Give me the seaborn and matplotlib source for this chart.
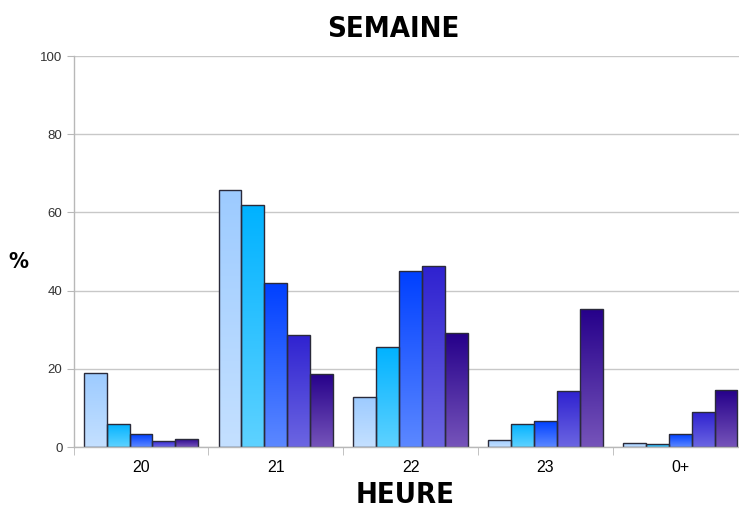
import numpy as np
import pandas as pd
import matplotlib
matplotlib.use("Agg")
import matplotlib.pyplot as plt
import seaborn as sns
from matplotlib.colors import LinearSegmentedColormap

hours = ["20", "21", "22", "23", "0+"]
series = ["S1", "S2", "S3", "S4", "S5"]
s1 = [18.9, 65.7, 12.7, 1.8, 0.9]
s2 = [5.9, 61.8, 25.7, 5.9, 0.7]
s3 = [3.2, 41.9, 45.0, 6.6, 3.2]
s4 = [1.6, 28.7, 46.3, 14.3, 8.9]
s5 = [2.1, 18.7, 29.1, 35.4, 14.5]

top_colors = ["#9dcbff", "#00b2ff", "#0040ff", "#2f22d0", "#25008a"]
bottom_colors = ["#c4e0ff", "#5ed2ff", "#5c88ff", "#6c66e2", "#7654ba"]

rows = []
for name, vals in zip(series, [s1, s2, s3, s4, s5]):
    for h, v in zip(hours, vals):
        rows.append({"heure": h, "serie": name, "val": v})
df = pd.DataFrame(rows)

sns.set_style("white")
fig = plt.figure(figsize=(7.39, 5.09), dpi=100)
ax = fig.add_axes([0.0996, 0.1218, 0.912, 0.768])

sns.barplot(data=df, x="heure", y="val", hue="serie", order=hours,
            hue_order=series, palette=top_colors, width=0.85,
            edgecolor="#2a2a3a", linewidth=1.0, legend=False, ax=ax,
            errorbar=None, saturation=1)

# gradient fills clipped to each bar
for i, cont in enumerate(ax.containers):
    cmap = LinearSegmentedColormap.from_list("g%d" % i, [bottom_colors[i], top_colors[i]])
    grad = np.linspace(0, 1, 256).reshape(-1, 1)
    for p in cont.patches:
        x0, y0 = p.get_x(), p.get_y()
        w, h = p.get_width(), p.get_height()
        im = ax.imshow(grad, extent=[x0, x0 + w, y0, y0 + h], origin="lower",
                       cmap=cmap, aspect="auto", zorder=p.get_zorder() + 0.1)
        im.set_clip_path(p)
        p.set_facecolor("none")
        p.set_zorder(p.get_zorder() + 0.2)

ax.set_xlim(-0.5, 4.5)
ax.set_ylim(0, 100)
ax.set_yticks([0, 20, 40, 60, 80, 100])
ax.yaxis.grid(True, color="#c8c8c8", linewidth=1.0)
ax.set_axisbelow(True)
for s in ["top", "right"]:
    ax.spines[s].set_visible(False)
for s in ["left", "bottom"]:
    ax.spines[s].set_color("#b8b8b8")
    ax.spines[s].set_linewidth(1.0)

ax.tick_params(axis="y", which="both", left=True, length=5, color="#b8b8b8",
               labelsize=9.5, labelcolor="#333333", pad=3)
ax.set_xticks(range(5))
ax.set_xticklabels(hours, fontsize=11.5, color="#000000", family="Liberation Sans")
ax.tick_params(axis="x", which="major", length=0, pad=9)
ax.set_xticks(np.arange(-0.5, 5.0, 1.0), minor=True)
ax.tick_params(axis="x", which="minor", bottom=True, length=6, color="#b8b8b8")
for lab in ax.get_yticklabels():
    lab.set_family("Liberation Sans")

stencil = dict(family=["Liberation Sans Narrow", "DejaVu Sans"], fontweight="bold",
               fontstretch="condensed", color="#000000")
fig.text(0.532, 0.943, "SEMAINE", ha="center", va="center", fontsize=21, **stencil)
fig.text(0.548, 0.027, "HEURE", ha="center", va="center", fontsize=21, **stencil)
fig.text(0.025, 0.485, "%", ha="center", va="center", fontsize=16, **stencil)
ax.set_xlabel("")
ax.set_ylabel("")

fig.savefig("out.png", dpi=100)
